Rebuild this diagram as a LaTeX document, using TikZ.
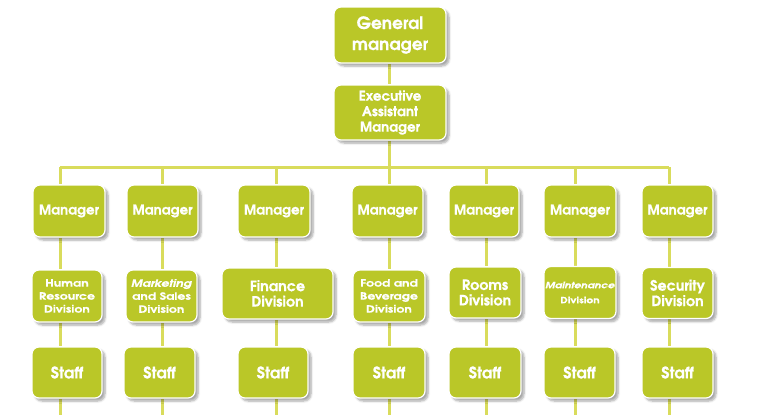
\documentclass[tikz,border=0pt]{standalone}
\usepackage{fontspec}
\setmainfont{texgyreadventor}[Extension=.otf, UprightFont=*-regular, BoldFont=*-bold, ItalicFont=*-italic, BoldItalicFont=*-bolditalic, BoldFeatures={FakeBold=0.6}, BoldItalicFeatures={FakeBold=0.6}]
\newfontfamily\widefont{texgyreadventor}[Extension=.otf, UprightFont=*-bold, ItalicFont=*-bolditalic, FakeStretch=1.25, FakeBold=0.6]
\usetikzlibrary{shadows.blur,backgrounds}
\definecolor{boxgreen}{RGB}{186,199,40}
\definecolor{linegreen}{RGB}{217,220,92}
\tikzset{
  orgbox/.style={draw=white, line width=1.2pt, fill=boxgreen, rounded corners=7pt,
    text=white, font=\bfseries, align=center, inner sep=1pt,
    blur shadow={shadow xshift=3pt, shadow yshift=-3pt, shadow opacity=35, shadow blur steps=6}},
  conn/.style={draw=linegreen, line width=3pt}
}
\begin{document}
\begin{tikzpicture}[x=1pt,y=-1pt]
\useasboundingbox (0,0) rectangle (783,415);
% top
\node[orgbox, minimum width=112pt, minimum height=56pt, font=\bfseries\fontsize{17}{21}\selectfont] (gm) at (390,35) {General\\manager};
\node[orgbox, minimum width=112pt, minimum height=55pt, font=\bfseries\fontsize{13.5}{15.5}\selectfont] (eam) at (390,112.5) {Executive\\Assistant\\Manager};
\coordinate (bar) at (0,167);
\coordinate (bottom) at (0,415);
% line x positions
\foreach \i/\x in {1/60,2/162,3/276,4/389,5/486,6/575,7/669} {\coordinate (l\i) at (\x,0);}
% managers
\tikzset{mgr/.style={orgbox, minimum width=71pt, minimum height=52pt, font=\bfseries\fontsize{13.5}{15}\selectfont}}
\node[mgr, minimum width=72pt] (m1) at (69,211) {Manager};
\node[mgr] (m2) at (162.5,211) {Manager};
\node[mgr, minimum width=72pt] (m3) at (274,211) {Manager};
\node[mgr] (m4) at (387.5,211) {Manager};
\node[mgr, minimum width=70pt] (m5) at (484,211) {Manager};
\node[mgr, minimum width=72pt] (m6) at (580,211) {Manager};
\node[mgr] (m7) at (677.5,211) {Manager};
% divisions
\tikzset{divs/.style={orgbox, minimum width=71pt, minimum height=52pt, font=\widefont\fontsize{10}{13}\selectfont},
  divb/.style={orgbox, minimum width=71pt, minimum height=51pt, font=\bfseries\fontsize{14.3}{15.5}\selectfont}}
\node[divs, minimum width=70pt] (d1) at (67,296) {Human\\Resource\\Division};
\node[divs] (d2) at (161.5,296) {\textit{Marketing}\\and Sales\\Division};
\node[divb, minimum width=111pt] (d3) at (277.5,293.5) {Finance\\Division};
\node[divs, minimum width=72pt] (d4) at (389,296) {Food and\\Beverage\\Division};
\node[divb, minimum width=72pt] (d5) at (485,292.5) {Rooms\\Division};
\node[divs, minimum width=72pt, font=\widefont\fontsize{8.6}{15}\selectfont] (d6) at (580,292.5) {\textit{Maintenance}\\Division};
\node[divb] (d7) at (677.5,293) {Security\\Division};
% staff
\tikzset{stf/.style={orgbox, minimum width=71pt, minimum height=51pt, font=\bfseries\fontsize{16}{18}\selectfont}}
\node[stf, minimum width=70pt] (s1) at (67,372.5) {Staff};
\node[stf] (s2) at (159.5,372.5) {Staff};
\node[stf, minimum width=70pt] (s3) at (273,372.5) {Staff};
\node[stf, minimum width=72pt] (s4) at (389,372.5) {Staff};
\node[stf, minimum width=72pt] (s5) at (485,372.5) {Staff};
\node[stf] (s6) at (579.5,372.5) {Staff};
\node[stf] (s7) at (677.5,372.5) {Staff};
% connectors
\begin{scope}[on background layer]
\draw[conn] (gm.south -| l4) -- (eam.north -| l4);
\draw[conn] (eam.south -| l4) -- (l4 |- bar);
\draw[conn] (l1 |- bar) -- (l7 |- bar);
\foreach \i in {1,...,7} {
  \draw[conn] (l\i |- bar) -- (m\i.north -| l\i);
  \draw[conn] (m\i.south -| l\i) -- (d\i.north -| l\i);
  \draw[conn] (d\i.south -| l\i) -- (s\i.north -| l\i);
  \draw[conn] (s\i.south -| l\i) -- (l\i |- bottom);
}
\end{scope}
\end{tikzpicture}
\end{document}
